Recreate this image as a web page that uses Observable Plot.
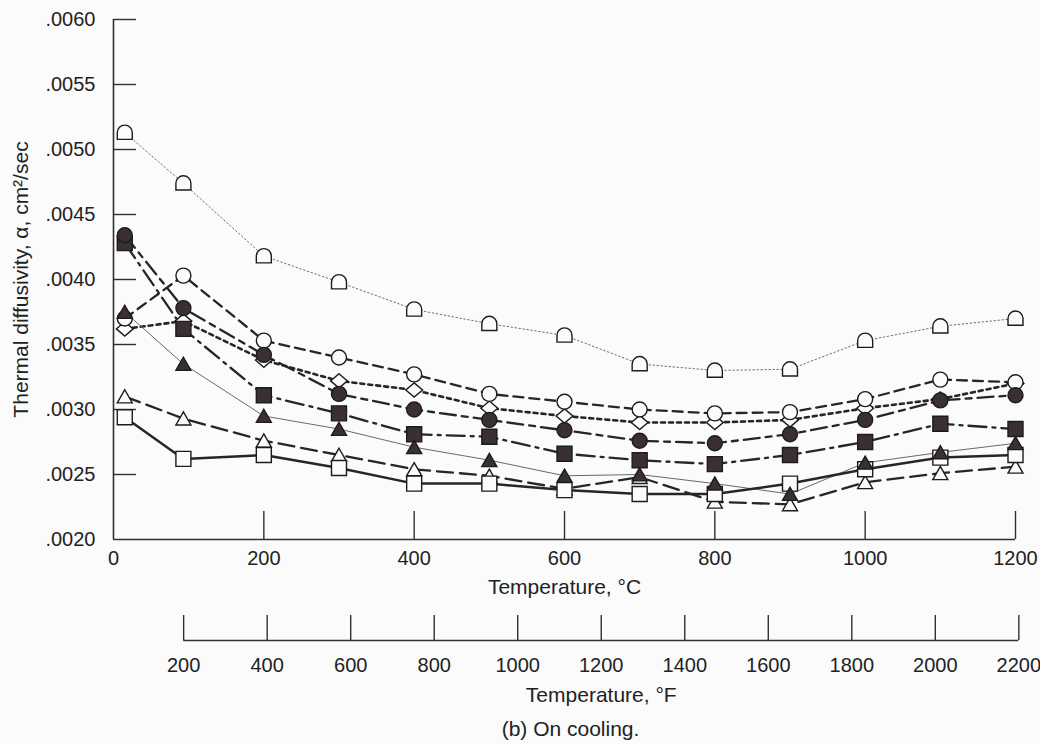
<!DOCTYPE html>
<html>
<head>
<meta charset="utf-8">
<script src="https://cdn.jsdelivr.net/npm/d3@7"></script>
<script src="https://cdn.jsdelivr.net/npm/@observablehq/plot@0.6"></script>
<style>
  body { margin: 0; background: #fbfbfb; }
  #chart { width: 1040px; height: 744px; overflow: hidden; }
  #chart svg { display: block; }
</style>
</head>
<body>
<div id="chart"></div>
<script>
// ---------- data ----------
const temps = [15, 93, 200, 300, 400, 500, 600, 700, 800, 900, 1000, 1100, 1200];

const archVals           = [0.00513, 0.00474, 0.00418, 0.00398, 0.00377, 0.00366, 0.00357, 0.00335, 0.00330, 0.00331, 0.00353, 0.00364, 0.00370];
const openCircleVals     = [0.00370, 0.00403, 0.00353, 0.00340, 0.00327, 0.00312, 0.00306, 0.00300, 0.00297, 0.00298, 0.00308, 0.00323, 0.00321];
const openDiamondVals    = [0.00362, 0.00368, 0.00338, 0.00322, 0.00315, 0.00301, 0.00295, 0.00290, 0.00290, 0.00292, 0.00301, 0.00308, 0.00320];
const filledCircleVals   = [0.00434, 0.00378, 0.00342, 0.00312, 0.00300, 0.00292, 0.00284, 0.00276, 0.00274, 0.00281, 0.00292, 0.00307, 0.00311];
const filledSquareVals   = [0.00428, 0.00362, 0.00311, 0.00297, 0.00281, 0.00279, 0.00266, 0.00261, 0.00258, 0.00265, 0.00275, 0.00289, 0.00285];
const filledTriangleVals = [0.00375, 0.00335, 0.00295, 0.00285, 0.00271, 0.00261, 0.00249, 0.00250, 0.00243, 0.00235, 0.00259, 0.00267, 0.00274];
const openTriangleVals   = [0.00310, 0.00293, 0.00276, 0.00265, 0.00254, 0.00249, 0.00239, 0.00248, 0.00229, 0.00227, 0.00244, 0.00251, 0.00256];
const openSquareVals     = [0.00294, 0.00262, 0.00265, 0.00255, 0.00243, 0.00243, 0.00238, 0.00235, 0.00235, 0.00243, 0.00254, 0.00263, 0.00265];

const seriesNames = ["arch", "openCircle", "openDiamond", "filledCircle", "filledSquare", "filledTriangle", "openTriangle", "openSquare"];
const seriesValues = [archVals, openCircleVals, openDiamondVals, filledCircleVals, filledSquareVals, filledTriangleVals, openTriangleVals, openSquareVals];

const yTicks = [0.0020, 0.0025, 0.0030, 0.0035, 0.0040, 0.0045, 0.0050, 0.0055, 0.0060];
const yTickLabels = [".0020", ".0025", ".0030", ".0035", ".0040", ".0045", ".0050", ".0055", ".0060"];
const xTicks = [0, 200, 400, 600, 800, 1000, 1200];
const xTickLabels = ["0", "200", "400", "600", "800", "1000", "1200"];
const fTicks = [200, 400, 600, 800, 1000, 1200, 1400, 1600, 1800, 2000, 2200];
const fTickLabels = ["200", "400", "600", "800", "1000", "1200", "1400", "1600", "1800", "2000", "2200"];

const yTitle = "Thermal diffusivity, α, cm²/sec";
const xTitle = "Temperature, °C";
const fTitle = "Temperature, °F";
const caption = "(b) On cooling.";

// ---------- table ----------
const rows = seriesNames.flatMap((s, k) => temps.map((t, i) => ({series: s, t, v: seriesValues[k][i]})));

// ---------- styles ----------
const ink = "#262626";
const darkFill = "#3a3033";
const openFill = "#fbfbfb";

const symArch = {draw(c, size) { const R = Math.sqrt(size / Math.PI); c.moveTo(-R, R * 0.9); c.lineTo(-R, 0); c.arc(0, 0, R, Math.PI, 2 * Math.PI); c.lineTo(R, R * 0.9); c.closePath(); }};
const symCircle = {draw(c, size) { const R = Math.sqrt(size / Math.PI); c.moveTo(R, 0); c.arc(0, 0, R, 0, 2 * Math.PI); c.closePath(); }};
const symSquare = {draw(c, size) { const R = Math.sqrt(size / Math.PI); c.rect(-R, -R, 2 * R, 2 * R); }};
const symDiamond = {draw(c, size) { const R = Math.sqrt(size / Math.PI); const w = R * 1.12, h = R * 0.95; c.moveTo(0, -h); c.lineTo(w, 0); c.lineTo(0, h); c.lineTo(-w, 0); c.closePath(); }};
const symTriangle = {draw(c, size) { const R = Math.sqrt(size / Math.PI); c.moveTo(0, -R * 0.9); c.lineTo(R, R * 0.85); c.lineTo(-R, R * 0.85); c.closePath(); }};

const style = {
  arch:           {line: {stroke: "#6e6e6e", strokeWidth: 1, strokeDasharray: "1.5,2.5"}, symbol: symArch, fill: openFill},
  openCircle:     {line: {stroke: ink, strokeWidth: 2.3, strokeDasharray: "10,6"}, symbol: symCircle, fill: openFill},
  openDiamond:    {line: {stroke: ink, strokeWidth: 2.6, strokeDasharray: "4,4"}, symbol: symDiamond, fill: openFill},
  filledCircle:   {line: {stroke: ink, strokeWidth: 2.3, strokeDasharray: "16,6,6,6"}, symbol: symCircle, fill: darkFill},
  filledSquare:   {line: {stroke: ink, strokeWidth: 2.3, strokeDasharray: "18,6,3,6"}, symbol: symSquare, fill: darkFill},
  filledTriangle: {line: {stroke: "#6a6a6a", strokeWidth: 1}, symbol: symTriangle, fill: darkFill},
  openTriangle:   {line: {stroke: ink, strokeWidth: 2.3, strokeDasharray: "16,7"}, symbol: symTriangle, fill: openFill},
  openSquare:     {line: {stroke: ink, strokeWidth: 2.5}, symbol: symSquare, fill: openFill}
};
const dotOrder = ["arch", "openDiamond", "openCircle", "openTriangle", "openSquare", "filledSquare", "filledCircle", "filledTriangle"];

const font = "'Liberation Sans', Arial, Helvetica, sans-serif";
const axisInk = "#303030";
const textInk = "#222";

const lineMarks = seriesNames.map(s =>
  Plot.line(rows.filter(d => d.series === s), {x: "t", y: "v", ...style[s].line}));
const dotMarks = dotOrder.map(s =>
  Plot.dot(rows.filter(d => d.series === s), {x: "t", y: "v", r: 7.5, symbol: style[s].symbol, fill: style[s].fill, stroke: "#1c1c1c", strokeWidth: 1.4}));

const main = Plot.plot({
  width: 1040, height: 600,
  marginTop: 19, marginBottom: 61, marginLeft: 113, marginRight: 25,
  style: {fontFamily: font, fontSize: "20px", background: "transparent", color: textInk},
  x: {domain: [0, 1200]},
  y: {domain: [0.002, 0.006]},
  marks: [
    Plot.ruleX([0], {stroke: axisInk, strokeWidth: 1.6}),
    Plot.ruleY([0.002], {stroke: axisInk, strokeWidth: 1.6}),
    Plot.axisY({ticks: yTicks.slice(1), tickSize: -23, tickFormat: () => "", label: null, stroke: axisInk, strokeWidth: 1.4}),
    Plot.axisY({ticks: yTicks, tickSize: 0, tickPadding: 18, tickFormat: d => yTickLabels[yTicks.indexOf(d)], label: null, fill: textInk, fontSize: 20}),
    Plot.axisX({ticks: xTicks.slice(1), tickSize: -28, tickFormat: () => "", label: null, stroke: axisInk, strokeWidth: 1.4}),
    Plot.axisX({ticks: xTicks, tickSize: 0, tickPadding: 11, tickFormat: d => xTickLabels[xTicks.indexOf(d)], label: null, fill: textInk, fontSize: 20}),
    Plot.text([yTitle], {frameAnchor: "left", rotate: -90, dx: -92, textAnchor: "middle", lineAnchor: "middle", fontSize: 21, fill: textInk}),
    Plot.text([xTitle], {frameAnchor: "bottom", dy: 48, lineAnchor: "middle", fontSize: 21, fill: textInk}),
    ...lineMarks,
    ...dotMarks
  ]
});

const fAxis = Plot.plot({
  width: 1040, height: 144,
  marginTop: 10, marginBottom: 104, marginLeft: 113, marginRight: 25,
  style: {fontFamily: font, fontSize: "20px", background: "transparent", color: textInk},
  x: {domain: [32, 2192]},
  y: {domain: [0, 1], axis: null},
  marks: [
    Plot.ruleY([0], {x1: fTicks[0], x2: fTicks[fTicks.length - 1], stroke: axisInk, strokeWidth: 1.6}),
    Plot.axisX({ticks: fTicks, tickSize: -25, tickFormat: () => "", label: null, stroke: axisInk, strokeWidth: 1.4}),
    Plot.axisX({ticks: fTicks, tickSize: 0, tickPadding: 17, tickFormat: d => fTickLabels[fTicks.indexOf(d)], label: null, fill: textInk, fontSize: 20}),
    Plot.text([fTitle], {x: (fTicks[0] + fTicks[fTicks.length - 1]) / 2, frameAnchor: "bottom", dy: 55, lineAnchor: "middle", fontSize: 21, fill: textInk}),
    Plot.text([caption], {frameAnchor: "bottom", dx: 6, dy: 89, lineAnchor: "middle", fontSize: 21, fill: textInk})
  ]
});

const chart = document.getElementById("chart");
chart.appendChild(main);
chart.appendChild(fAxis);
</script>
</body>
</html>
